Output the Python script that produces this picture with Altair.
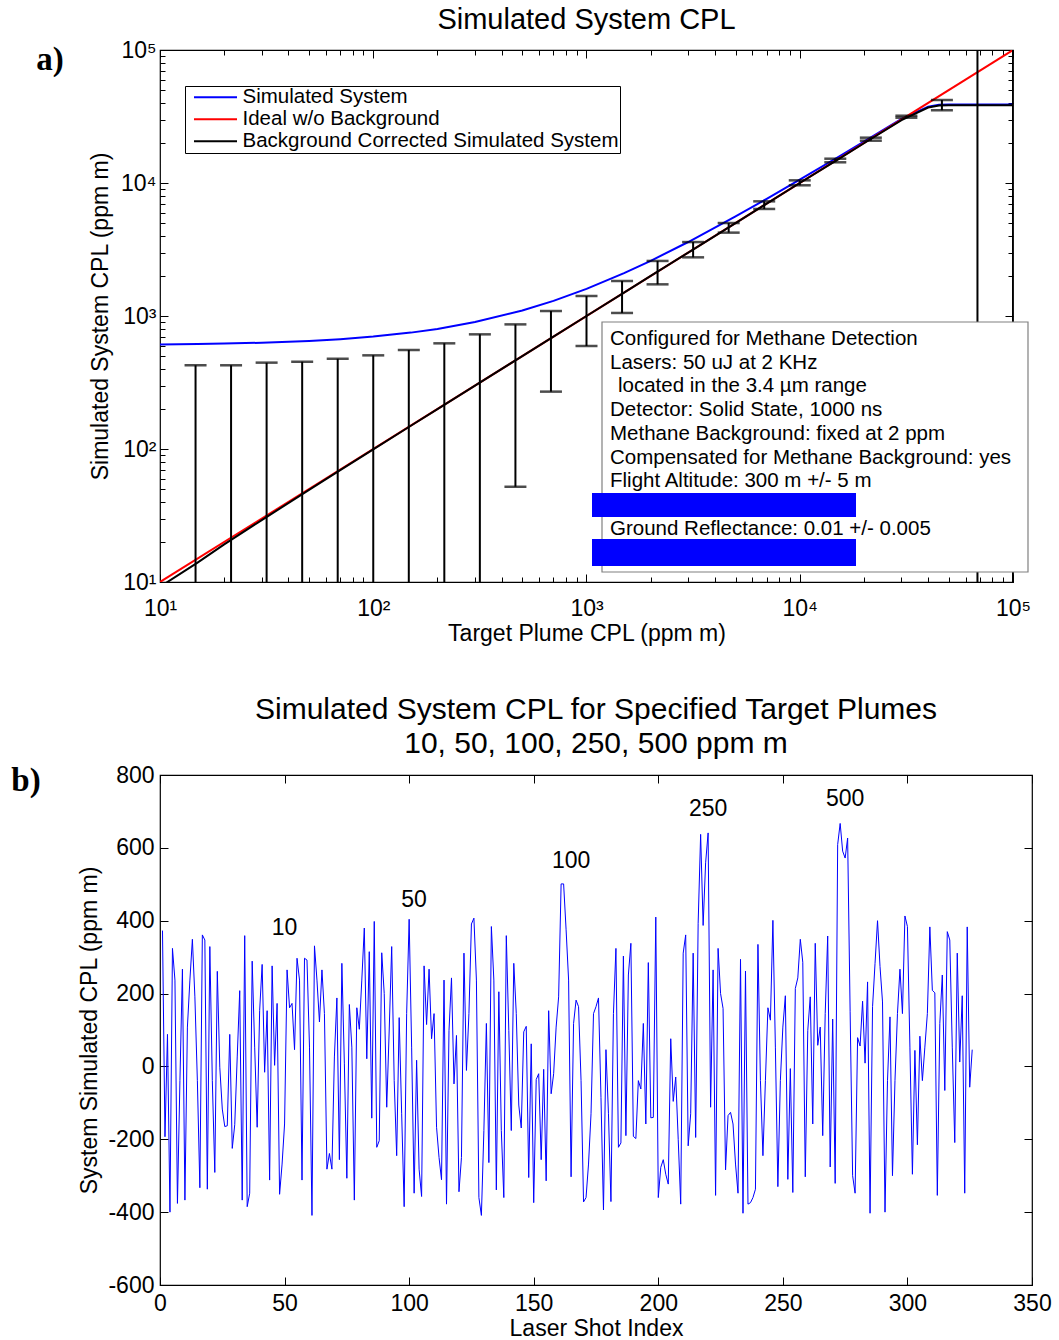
import altair as alt
import pandas as pd

# ---------------- Panel a data ----------------
curve_x = [10, 15, 20, 30, 50, 70, 100, 150, 200, 300, 500, 700, 1000, 1500, 2000,
           3000, 5000, 7000, 10000, 15000, 20000, 30000, 40000, 45000, 50000, 100000]
sim_y = [610, 615, 620, 630, 650, 670, 700, 750, 800, 900, 1100, 1300, 1600, 2100, 2600,
         3600, 5600, 7600, 10600, 15500, 20500, 30300, 37500, 38800, 39000, 39000]
corr_y = [9.2, 14.0, 19.2, 29.2, 49.3, 69.4, 99.5, 149.6, 199.7, 299.8, 499.9, 700, 1000, 1500, 2000,
          3000, 5000, 7000, 10000, 14900, 19900, 29700, 36900, 38200, 38400, 38400]
ideal_x = [10, 100000]
ideal_y = [10, 100000]

eb_x = [14.68, 21.54, 31.62, 46.42, 68.13, 100, 146.8, 215.4, 316.2, 464.2, 681.3, 1000,
        1468, 2154, 3162, 4642, 6813, 10000, 14678, 21544, 31623, 46416, 68129, 100000]
eb_hi = [426, 426, 446, 453, 477, 506, 555, 623, 728, 865, 1090, 1414,
         1833, 2594, 3597, 5000, 7280, 10470, 15230, 21920, 32060, 42070, 1e6, 1e6]
eb_lo = [1, 1, 1, 1, 1, 1, 1, 1, 1, 52, 270, 595,
         1054, 1730, 2761, 4234, 6380, 9610, 14310, 20800, 30970, 35230, 1, 1]

series_names = ["Simulated System", "Ideal w/o Background", "Background Corrected Simulated System"]
series_colors = ["#0000ff", "#ff0000", "#000000"]

major_ticks_a = [10, 100, 1000, 10000, 100000]
minor_ticks_a = [20, 30, 40, 50, 60, 70, 80, 90,
                 200, 300, 400, 500, 600, 700, 800, 900,
                 2000, 3000, 4000, 5000, 6000, 7000, 8000, 9000,
                 20000, 30000, 40000, 50000, 60000, 70000, 80000, 90000]

info_lines = ["Configured for Methane Detection",
              "Lasers: 50 uJ at 2 KHz",
              "located in the 3.4 \u00b5m range",
              "Detector: Solid State, 1000 ns",
              "Methane Background: fixed at 2 ppm",
              "Compensated for Methane Background: yes",
              "Flight Altitude: 300 m  +/- 5 m",
              "Ground Reflectance: 0.01 +/- 0.005"]
info_rows = [0, 1, 2, 3, 4, 5, 6, 8]
info_indent = [0, 0, 8, 0, 0, 0, 0, 0]

# ---------------- Panel b data ----------------
shot_values = [
    373, -193, 88, -400, 324, 237, -376, -39, 267, -367,
    108, 237, 349, 191, -39, -333, 361, 347, -337, 329,
    -39, -291, 261, -2, -117, -165, -163, 88, -225, -160,
    26, 208, -367, 359, -385, -348, 289, 53, -167, 154,
    280, -16, 153, -312, 276, 3, 173, -351, -268, -158,
    265, 161, 173, 46, 297,
    237, -312, 297, 292, 53, -409, 331, 237, 122, 265,
    145, -282, -239, -282, 26, 188, -256, 283, 7, -307,
    170, 53, -367, 161, 102, 237, 380, 21, 315, -142,
    398, -222, -204, 312, 200, -112, 100, 329, -39, -245,
    134, -130, -385, 145, 404, 53, -348, 17, -282, -357,
    276, 115, 267, 76, 145,
    -167, -250, -311, 237, -378, 99, 243, -48, 85, -344,
    -250, 311, -11, 145, 391, 407, 237, -360, -409, -176,
    118, -264, 384, 237, -339, 205, -176, -360, 359, 99,
    -176, 283, 145, -106, -169, 95, 110, -305, 62, -374,
    -36, -20, -256, -8, -314, 153, -75, -20, 108, 191,
    501, 501, 375, 237,
    -303, 118, 182, 164, -39, -372, -360, -268, -130, 145,
    164, 188, -85, -394, 46, -130, -371, 145, 324, -222,
    -210, 303, -190, 251, 338, -192, -198, -39, -62, 118,
    -158, 285, -141, -140, 410, -360, -277, -256, -296, -323,
    76, -96, -29, -200, -378, 311, 361, -218, -130, 311,
    -195, 393, 637, 387, 559, 641,
    -112, 265, -354, 324, 200, 159, -284, -135, -126, -158,
    -268, -348, 294, -403, 262, -378, -374, -360, -337, 335,
    -39, -245, -39, 161, 127, 401, 53, -330, -39, 108,
    194, -310, -6, -346, 214, 243, 349, 286, -303, 99,
    191, -158, 338, 58, 108, -190, 145, 358, -276, 130,
    -321, 609, 667, 591, 572, 627,
    150, -300, -348, 79, 56, 179, 9, 232, -403, 164,
    283, 400, 274, 177, -400, -39, 136, -300, -39, 145,
    267, 145, 413, 384, 53, -296, 44, -215, 83, -39,
    53, 145, 383, 209, 202, -354, 118, 251, -66, 370,
    347, 53, -209, 311, 12, 194, -348, 383, -57, 46,
]

plume_label_x = [50, 102, 165, 220, 275]
plume_label_y = [381, 458, 565, 708, 733]
plume_label_text = ["10", "50", "100", "250", "500"]

b_x_ticks = [0, 50, 100, 150, 200, 250, 300, 350]
b_y_ticks = [-600, -400, -200, 0, 200, 400, 600, 800]

FONT = "Liberation Sans"

# ---------------- Panel a ----------------
rows = []
for xv, yv in zip(curve_x, sim_y):
    rows.append({"x": xv, "y": yv, "series": series_names[0]})
for xv, yv in zip(ideal_x, ideal_y):
    rows.append({"x": xv, "y": yv, "series": series_names[1]})
for xv, yv in zip(curve_x, corr_y):
    rows.append({"x": xv, "y": yv, "series": series_names[2]})
df_lines = pd.DataFrame(rows)
df_eb = pd.DataFrame({"x": eb_x, "lo": eb_lo, "hi": eb_hi})
one = pd.DataFrame({"k": [0]})

xa = alt.Scale(type="log", domain=[10, 100000], nice=False)
ya = alt.Scale(type="log", domain=[10, 100000], nice=False)

pow_expr = "'10' + ['\u00b9','\u00b2','\u00b3','\u2074','\u2075'][round(log(datum.value)/LN10) - 1]"

MAJ = 8
MIN = 5


def major_axis(orient, values, labels, title=None, label_expr=None, label_pad=4, title_pad=4):
    kw = dict(orient=orient, values=values, tickSize=MAJ, offset=-MAJ, domain=False,
              grid=False, labelOverlap=False, labelFlush=False, tickColor="black", tickWidth=1)
    if labels:
        kw.update(labels=True, labelExpr=label_expr, labelPadding=label_pad,
                  title=title, titlePadding=title_pad)
    else:
        kw.update(labels=False, title=None)
    return alt.Axis(**kw)


def minor_axis(orient, values):
    return alt.Axis(orient=orient, values=values, tickSize=MIN, offset=-MIN, domain=False,
                    grid=False, labels=False, title=None, tickColor="black", tickWidth=1)


ax_xa = major_axis("bottom", major_ticks_a, True, "Target Plume CPL (ppm m)", pow_expr, 15, 2)
ax_ya = major_axis("left", major_ticks_a, True, "Simulated System CPL (ppm m)", pow_expr, 4, 8)

color_scale = alt.Scale(domain=series_names, range=series_colors)
leg = alt.Legend(title=None, orient="none", legendX=25, legendY=36, symbolType="stroke",
                 symbolSize=1850, symbolStrokeWidth=2, labelFont=FONT, labelFontSize=20.5,
                 labelColor="black", clipHeight=21.5, rowPadding=0, padding=0.5,
                 strokeColor="black", fillColor="white", labelOffset=4, symbolOffset=7,
                 labelLimit=700)


def line_layer(name):
    return alt.Chart(df_lines).transform_filter(alt.datum.series == name).mark_line(
        strokeWidth=2, clip=True).encode(
        x=alt.X("x:Q", scale=xa, axis=ax_xa),
        y=alt.Y("y:Q", scale=ya, axis=ax_ya),
        color=alt.Color("series:N", scale=color_scale, legend=leg),
    )


l_sim = line_layer(series_names[0])
l_ideal = line_layer(series_names[1])
l_corr = line_layer(series_names[2])

eb_rule = alt.Chart(df_eb).mark_rule(color="black", strokeWidth=2, clip=True).encode(
    x=alt.X("x:Q", scale=xa, axis=ax_xa), y=alt.Y("lo:Q", scale=ya, axis=ax_ya), y2="hi:Q")
eb_top = alt.Chart(df_eb).mark_tick(color="black", orient="horizontal", size=22, thickness=2.5,
                                    clip=True).encode(
    x=alt.X("x:Q", scale=xa, axis=ax_xa), y=alt.Y("hi:Q", scale=ya, axis=ax_ya))
eb_bot = alt.Chart(df_eb).mark_tick(color="black", orient="horizontal", size=22, thickness=2.5,
                                    clip=True).encode(
    x=alt.X("x:Q", scale=xa, axis=ax_xa), y=alt.Y("lo:Q", scale=ya, axis=ax_ya))

box = alt.Chart(one).mark_rect(fill="white", stroke="#808080", strokeWidth=1.2).encode(
    x=alt.value(442), x2=alt.value(868), y=alt.value(272), y2=alt.value(522))
bar1 = alt.Chart(one).mark_rect(fill="#0000ff").encode(
    x=alt.value(432), x2=alt.value(696), y=alt.value(443), y2=alt.value(467))
bar2 = alt.Chart(one).mark_rect(fill="#0000ff").encode(
    x=alt.value(432), x2=alt.value(696), y=alt.value(489), y2=alt.value(516))

info_marks = []
for txt, r, ind in zip(info_lines, info_rows, info_indent):
    info_marks.append(
        alt.Chart(one).mark_text(text=txt, align="left", baseline="middle", font=FONT,
                                 fontSize=20.5, color="black").encode(
            x=alt.value(450 + ind), y=alt.value(289 + r * 23.7)))

tag_a = alt.Chart(one).mark_text(text="a)", font="Liberation Serif", fontWeight="bold",
                                 fontSize=33, align="center", baseline="middle",
                                 color="black").encode(x=alt.value(-110), y=alt.value(10))

inner_a = alt.layer(l_sim, l_ideal, l_corr, eb_rule, eb_top, eb_bot, box, bar1, bar2,
                    *info_marks, tag_a)


def ghost(df, xf, yf, xs, ys, axx, axy):
    return alt.Chart(df).mark_point(opacity=0, size=1).encode(
        x=alt.X(xf, scale=xs, axis=axx), y=alt.Y(yf, scale=ys, axis=axy))


g_a1 = ghost(df_lines, "x:Q", "y:Q", xa, ya, minor_axis("bottom", minor_ticks_a),
             minor_axis("left", minor_ticks_a))
g_a2 = ghost(df_lines, "x:Q", "y:Q", xa, ya, major_axis("top", major_ticks_a, False),
             major_axis("right", major_ticks_a, False))
g_a3 = ghost(df_lines, "x:Q", "y:Q", xa, ya, minor_axis("top", minor_ticks_a),
             minor_axis("right", minor_ticks_a))

panel_a = alt.layer(inner_a, g_a1, g_a2, g_a3).resolve_axis(
    x="independent", y="independent").properties(
    width=853, height=532,
    title=alt.Title("Simulated System CPL", fontSize=29, font=FONT, fontWeight="normal",
                    color="black", offset=4))

# ---------------- Panel b ----------------
df_b = pd.DataFrame({"i": list(range(1, len(shot_values) + 1)), "v": shot_values})
df_lab = pd.DataFrame({"x": plume_label_x, "y": plume_label_y, "t": plume_label_text})

xb = alt.Scale(domain=[0, 350], nice=False)
yb = alt.Scale(domain=[-600, 800], nice=False)
ax_xb = major_axis("bottom", b_x_ticks, True, "Laser Shot Index", "'' + datum.value", 7, 2)
ax_yb = major_axis("left", b_y_ticks, True, "System Simulated CPL (ppm m)", "'' + datum.value", 6, 6)

shot_line = alt.Chart(df_b).mark_line(color="#0000ff", strokeWidth=1).encode(
    x=alt.X("i:Q", scale=xb, axis=ax_xb),
    y=alt.Y("v:Q", scale=yb, axis=ax_yb),
)
plume_text = alt.Chart(df_lab).mark_text(font=FONT, fontSize=23, color="black",
                                         align="center", baseline="middle").encode(
    x=alt.X("x:Q", scale=xb, axis=ax_xb), y=alt.Y("y:Q", scale=yb, axis=ax_yb), text="t:N")
tag_b = alt.Chart(one).mark_text(text="b)", font="Liberation Serif", fontWeight="bold",
                                 fontSize=33, align="center", baseline="middle",
                                 color="black").encode(x=alt.value(-134), y=alt.value(6))

inner_b = alt.layer(shot_line, plume_text, tag_b)
g_b = ghost(df_b, "i:Q", "v:Q", xb, yb, major_axis("top", b_x_ticks, False),
            major_axis("right", b_y_ticks, False))

panel_b = alt.layer(inner_b, g_b).resolve_axis(x="independent", y="independent").properties(
    width=872, height=510,
    title=alt.Title(["Simulated System CPL for Specified Target Plumes", "10, 50, 100, 250, 500 ppm m"],
                    fontSize=30, font=FONT, fontWeight="normal", color="black", lineHeight=34,
                    offset=5))

chart = alt.vconcat(panel_a, panel_b, spacing=48).properties(
    padding={"left": 10, "top": 5, "right": 5, "bottom": 0},
    background="white",
).configure_view(stroke="black", strokeWidth=1.2).configure_axis(
    labelFont=FONT, labelFontSize=23, labelColor="black", titleFont=FONT, titleFontSize=23,
    titleFontWeight="normal", titleColor="black", tickColor="black", domainColor="black",
    grid=False,
).configure_legend(labelFont=FONT)

chart.save("out.html", embed_options={"renderer": "svg", "actions": False})
